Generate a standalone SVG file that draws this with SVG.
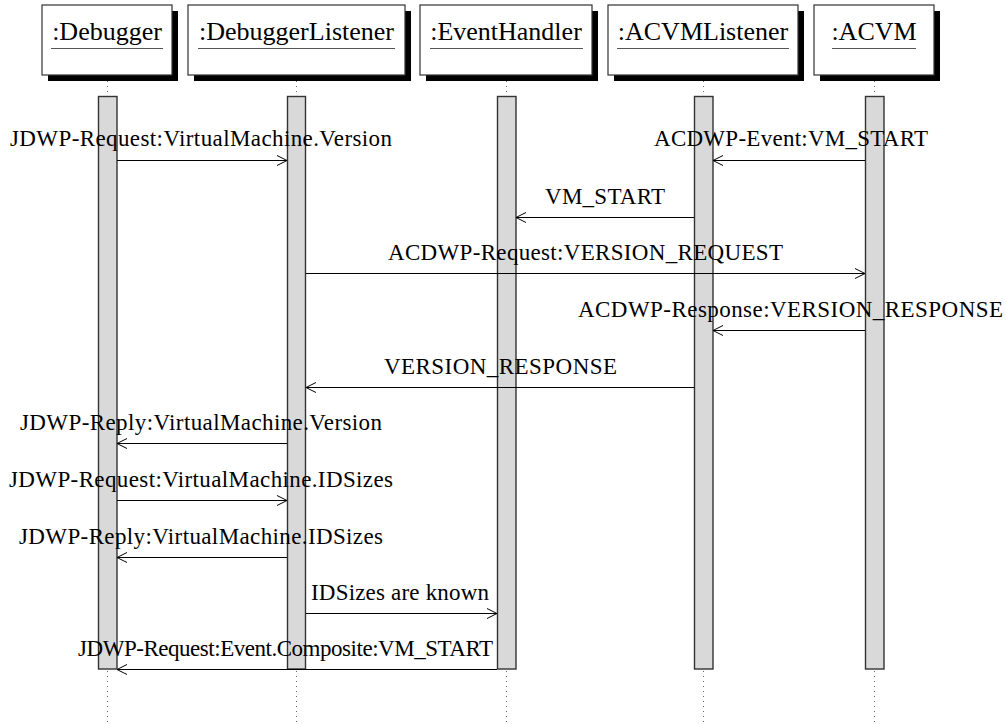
<svg xmlns="http://www.w3.org/2000/svg" width="1006" height="724" viewBox="0 0 1006 724">
<defs>
<style>
.box{fill:#fff;stroke:#333;stroke-width:1.2}
.shadow{fill:#000}
.head{font-size:26px;text-anchor:middle;fill:#000}
.uline{stroke:#555;stroke-width:1.2}
.life{stroke:#666;stroke-width:1;stroke-dasharray:1 4}
.bar{fill:#d9d9d9;stroke:#333;stroke-width:1.4}
.msg{stroke:#000;stroke-width:1;fill:none;marker-end:url(#arr)}
.lbl{font-size:23px;text-anchor:middle;fill:#000}
</style>
<marker id="arr" markerUnits="userSpaceOnUse" markerWidth="12" markerHeight="12" refX="11" refY="6" orient="auto">
<path d="M1,1 L11,6 L1,11" fill="none" stroke="#000" stroke-width="1"/>
</marker>
</defs>
<rect width="1006" height="724" fill="#fff"/>

<g font-family="Liberation Serif, serif">
<g id="node-debugger">
<rect class="shadow" x="48" y="11" width="130" height="70"/>
<rect class="box" x="42" y="5" width="130" height="70"/>
<text class="head" x="107" y="40">:Debugger</text>
<line class="uline" x1="51" y1="48.5" x2="163" y2="48.5"/>
<line class="life" x1="107.5" y1="81" x2="107.5" y2="724"/>
<rect class="bar" x="98.5" y="96.5" width="18.5" height="572.5"/>
</g>

<g id="node-debuggerlistener">
<rect class="shadow" x="194" y="11" width="217" height="70"/>
<rect class="box" x="188" y="5" width="217" height="70"/>
<text class="head" x="296.5" y="40">:DebuggerListener</text>
<line class="uline" x1="198" y1="48.5" x2="395" y2="48.5"/>
<line class="life" x1="296.5" y1="81" x2="296.5" y2="724"/>
<rect class="bar" x="287.5" y="96.5" width="18" height="572.5"/>
</g>

<g id="node-eventhandler">
<rect class="shadow" x="426" y="11" width="172" height="70"/>
<rect class="box" x="420" y="5" width="172" height="70"/>
<text class="head" x="506" y="40">:EventHandler</text>
<line class="uline" x1="430" y1="48.5" x2="583" y2="48.5"/>
<line class="life" x1="506.5" y1="81" x2="506.5" y2="724"/>
<rect class="bar" x="497.5" y="96.5" width="18.5" height="572.5"/>
</g>

<g id="node-acvmlistener">
<rect class="shadow" x="614" y="11" width="190" height="70"/>
<rect class="box" x="608" y="5" width="190" height="70"/>
<text class="head" x="703" y="40">:ACVMListener</text>
<line class="uline" x1="617" y1="48.5" x2="789" y2="48.5"/>
<line class="life" x1="703.5" y1="81" x2="703.5" y2="724"/>
<rect class="bar" x="694.5" y="96.5" width="18.5" height="572.5"/>
</g>

<g id="node-acvm">
<rect class="shadow" x="820" y="11" width="120" height="70"/>
<rect class="box" x="814" y="5" width="120" height="70"/>
<text class="head" x="874" y="40">:ACVM</text>
<line class="uline" x1="832" y1="48.5" x2="916" y2="48.5"/>
<line class="life" x1="874.5" y1="81" x2="874.5" y2="724"/>
<rect class="bar" x="865.5" y="96.5" width="18.5" height="572.5"/>
</g>

<g id="connectors">
<line class="msg" x1="117" y1="160.5" x2="287" y2="160.5"/>
<line class="msg" x1="865" y1="160.5" x2="713" y2="160.5"/>
<line class="msg" x1="694" y1="217.5" x2="516" y2="217.5"/>
<line class="msg" x1="306" y1="273.5" x2="865" y2="273.5"/>
<line class="msg" x1="865" y1="330.5" x2="713" y2="330.5"/>
<line class="msg" x1="694" y1="387.5" x2="306" y2="387.5"/>
<line class="msg" x1="287" y1="443.5" x2="117" y2="443.5"/>
<line class="msg" x1="117" y1="500.5" x2="287" y2="500.5"/>
<line class="msg" x1="287" y1="557.5" x2="117" y2="557.5"/>
<line class="msg" x1="306" y1="613.5" x2="497" y2="613.5"/>
<line class="msg" x1="497" y1="669.5" x2="117" y2="669.5"/>
</g>

<g id="labels">
<text class="lbl" x="201" y="146" textLength="382" lengthAdjust="spacing">JDWP-Request:VirtualMachine.Version</text>
<text class="lbl" x="791" y="146" textLength="274" lengthAdjust="spacing">ACDWP-Event:VM_START</text>
<text class="lbl" x="605" y="204" textLength="120" lengthAdjust="spacing">VM_START</text>
<text class="lbl" x="585.5" y="260" textLength="395" lengthAdjust="spacing">ACDWP-Request:VERSION_REQUEST</text>
<text class="lbl" x="790.5" y="317" textLength="425" lengthAdjust="spacing">ACDWP-Response:VERSION_RESPONSE</text>
<text class="lbl" x="500.5" y="374" textLength="233" lengthAdjust="spacing">VERSION_RESPONSE</text>
<text class="lbl" x="201" y="430" textLength="362" lengthAdjust="spacing">JDWP-Reply:VirtualMachine.Version</text>
<text class="lbl" x="201" y="487" textLength="384" lengthAdjust="spacing">JDWP-Request:VirtualMachine.IDSizes</text>
<text class="lbl" x="201" y="544" textLength="364" lengthAdjust="spacing">JDWP-Reply:VirtualMachine.IDSizes</text>
<text class="lbl" x="400" y="600" textLength="178" lengthAdjust="spacing">IDSizes are known</text>
<text class="lbl" x="285.5" y="656" textLength="415" lengthAdjust="spacing">JDWP-Request:Event.Composite:VM_START</text>
</g>
</g>
</svg>
